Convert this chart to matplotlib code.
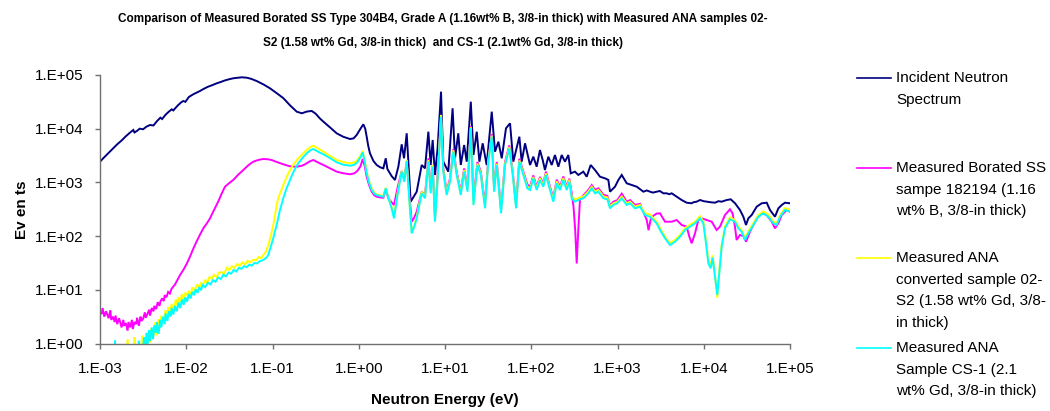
import matplotlib
matplotlib.use("Agg")
import matplotlib.pyplot as plt
from matplotlib.lines import Line2D
import numpy as np

plt.rcParams['font.family'] = ['Liberation Sans', 'DejaVu Sans']

# ---------------- data: (log10 energy [eV], log10 events) -------------
incident_spectrum = [
    (-3.00, 3.386), (-2.95, 3.47), (-2.90, 3.55), (-2.85, 3.63), (-2.80, 3.71), (-2.75, 3.78),
    (-2.70, 3.86), (-2.65, 3.93), (-2.614, 3.976), (-2.60, 3.93), (-2.57, 3.96), (-2.54, 4.00),
    (-2.50, 3.99), (-2.46, 4.04), (-2.42, 4.069), (-2.38, 4.06), (-2.34, 4.14), (-2.30, 4.205),
    (-2.28, 4.18), (-2.24, 4.26), (-2.20, 4.32), (-2.168, 4.361), (-2.15, 4.34), (-2.10, 4.43),
    (-2.06, 4.49), (-2.034, 4.516), (-2.01, 4.50), (-1.97, 4.59), (-1.92, 4.64), (-1.87, 4.68),
    (-1.841, 4.702), (-1.80, 4.74), (-1.75, 4.78), (-1.70, 4.81), (-1.647, 4.845), (-1.60, 4.87),
    (-1.55, 4.90), (-1.493, 4.925), (-1.45, 4.94), (-1.40, 4.95), (-1.357, 4.957), (-1.30, 4.95),
    (-1.25, 4.93), (-1.183, 4.888), (-1.10, 4.82), (-1.029, 4.752), (-0.95, 4.66), (-0.875, 4.57),
    (-0.80, 4.44), (-0.719, 4.317), (-0.66, 4.287), (-0.60, 4.32), (-0.545, 4.330), (-0.50, 4.28),
    (-0.45, 4.19), (-0.41, 4.131), (-0.33, 4.02), (-0.256, 3.914), (-0.18, 3.85), (-0.101, 3.808),
    (-0.06, 3.82), (-0.024, 3.883), (0.02, 4.00), (0.053, 4.082), (0.075, 4.00), (0.092, 3.851),
    (0.110, 3.68), (0.130, 3.542), (0.17, 3.40), (0.208, 3.324), (0.25, 3.28), (0.285, 3.262),
    (0.313, 3.449), (0.332, 3.25), (0.38, 3.12), (0.420, 3.045), (0.46, 3.30), (0.498, 3.709),
    (0.525, 3.449), (0.556, 3.914), (0.602, 2.641), (0.672, 2.827), (0.730, 3.324), (0.768, 3.262),
    (0.807, 3.944), (0.834, 3.324), (0.857, 3.790), (0.884, 3.138), (0.914, 3.635), (0.954, 4.689),
    (0.980, 3.386), (1.038, 3.20), (1.088, 4.380), (1.116, 3.449), (1.154, 3.914), (1.183, 3.324),
    (1.222, 3.696), (1.252, 3.386), (1.299, 4.503), (1.330, 3.510), (1.368, 3.944), (1.399, 3.386),
    (1.437, 3.728), (1.483, 3.324), (1.542, 4.317), (1.580, 3.572), (1.619, 3.758), (1.658, 3.449),
    (1.707, 4.007), (1.754, 4.100), (1.792, 3.386), (1.862, 3.851), (1.889, 3.386), (1.928, 3.728),
    (1.986, 3.324), (2.024, 3.479), (2.063, 3.292), (2.101, 3.603), (2.133, 3.417), (2.159, 3.231),
    (2.198, 3.479), (2.237, 3.324), (2.275, 3.510), (2.314, 3.292), (2.353, 3.510), (2.391, 3.386),
    (2.430, 3.510), (2.458, 3.169), (2.507, 3.20), (2.546, 3.138), (2.604, 3.20), (2.643, 3.106),
    (2.689, 3.324), (2.739, 3.231), (2.797, 3.106), (2.855, 3.076), (2.894, 3.045), (2.913, 2.827),
    (2.971, 2.920), (3.01, 3.045), (3.049, 3.138), (3.107, 2.983), (3.165, 2.952), (3.223, 2.920),
    (3.30, 2.827), (3.34, 2.85), (3.377, 2.827), (3.41, 2.81), (3.454, 2.827), (3.49, 2.84),
    (3.532, 2.797), (3.57, 2.797), (3.60, 2.78), (3.628, 2.797), (3.686, 2.734), (3.744, 2.672),
    (3.802, 2.622), (3.86, 2.611), (3.88, 2.63), (3.918, 2.641), (3.957, 2.672), (4.0, 2.65),
    (4.034, 2.641), (4.08, 2.63), (4.13, 2.622), (4.17, 2.65), (4.208, 2.641), (4.266, 2.672),
    (4.313, 2.685), (4.363, 2.611), (4.42, 2.486), (4.459, 2.361), (4.49, 2.207), (4.517, 2.331),
    (4.556, 2.393), (4.614, 2.548), (4.672, 2.611), (4.73, 2.622), (4.768, 2.486), (4.826, 2.361),
    (4.865, 2.517), (4.904, 2.579), (4.942, 2.622), (5.0, 2.611)]

borated_ss_182194 = [
    (-3.00, 0.58), (-2.98, 0.55), (-2.97, 0.66), (-2.95, 0.50), (-2.93, 0.60), (-2.92, 0.56),
    (-2.90, 0.47), (-2.88, 0.62), (-2.87, 0.44), (-2.85, 0.50), (-2.83, 0.40), (-2.82, 0.52),
    (-2.80, 0.36), (-2.78, 0.47), (-2.77, 0.42), (-2.75, 0.30), (-2.73, 0.44), (-2.72, 0.33),
    (-2.70, 0.38), (-2.68, 0.24), (-2.67, 0.40), (-2.65, 0.30), (-2.63, 0.44), (-2.62, 0.27),
    (-2.60, 0.40), (-2.58, 0.36), (-2.57, 0.48), (-2.55, 0.33), (-2.53, 0.50), (-2.52, 0.42),
    (-2.50, 0.46), (-2.48, 0.58), (-2.47, 0.48), (-2.45, 0.55), (-2.43, 0.63), (-2.42, 0.52),
    (-2.40, 0.66), (-2.38, 0.60), (-2.37, 0.70), (-2.35, 0.64), (-2.33, 0.77), (-2.31, 0.70),
    (-2.30, 0.78), (-2.28, 0.84), (-2.26, 0.79), (-2.25, 0.90), (-2.23, 0.86), (-2.21, 0.96),
    (-2.19, 0.93), (-2.17, 1.02), (-2.15, 1.06), (-2.13, 1.10), (-2.11, 1.16), (-2.09, 1.22),
    (-2.07, 1.28), (-2.03, 1.38), (-1.99, 1.50), (-1.957, 1.617), (-1.92, 1.76), (-1.88, 1.90),
    (-1.84, 2.03), (-1.80, 2.15), (-1.76, 2.24), (-1.725, 2.33), (-1.68, 2.48), (-1.63, 2.64),
    (-1.59, 2.79), (-1.551, 2.92), (-1.50, 2.99), (-1.455, 3.045), (-1.40, 3.14), (-1.339, 3.23),
    (-1.28, 3.32), (-1.223, 3.386), (-1.16, 3.42), (-1.107, 3.436), (-1.05, 3.43), (-1.01, 3.417),
    (-0.95, 3.38), (-0.875, 3.337), (-0.80, 3.30), (-0.719, 3.292), (-0.66, 3.31), (-0.623, 3.337),
    (-0.57, 3.39), (-0.527, 3.417), (-0.47, 3.37), (-0.41, 3.324), (-0.33, 3.26), (-0.256, 3.20),
    (-0.18, 3.17), (-0.101, 3.151), (-0.05, 3.17), (-0.017, 3.212), (0.02, 3.30), (0.046, 3.436),
    (0.07, 3.30), (0.092, 3.106), (0.12, 2.95), (0.15, 2.827), (0.18, 2.76), (0.208, 2.734),
    (0.25, 2.72), (0.285, 2.715), (0.313, 2.877), (0.343, 2.704), (0.38, 2.63), (0.409, 2.579),
    (0.45, 2.90), (0.498, 3.212), (0.528, 3.076), (0.556, 3.386), (0.585, 2.80), (0.614, 2.268),
    (0.645, 2.35), (0.672, 2.455), (0.730, 2.827), (0.768, 2.765), (0.807, 3.449), (0.834, 2.890),
    (0.857, 3.324), (0.884, 2.331), (0.914, 3.138), (0.954, 4.255),
    (0.98, 3.26), (1.019, 2.83), (1.058, 3.07), (1.097, 3.62), (1.135, 3.20), (1.183, 2.83),
    (1.222, 3.26), (1.261, 2.90), (1.299, 4.05), (1.33, 2.69), (1.376, 3.38), (1.415, 3.20),
    (1.464, 2.60), (1.502, 3.44), (1.542, 3.90), (1.569, 2.90), (1.60, 3.38), (1.65, 2.50),
    (1.696, 3.38), (1.746, 3.69), (1.785, 3.20), (1.824, 2.60), (1.862, 3.44), (1.909, 3.20),
    (1.955, 2.96),
    (1.986, 2.92), (2.024, 3.13), (2.063, 2.92), (2.101, 3.10), (2.14, 2.98), (2.17, 3.20),
    (2.217, 2.92), (2.256, 2.71), (2.295, 3.05), (2.333, 2.92), (2.372, 3.11), (2.411, 2.92),
    (2.442, 3.07), (2.469, 2.80), (2.49, 2.55), (2.51, 2.10), (2.527, 1.49), (2.545, 2.10),
    (2.565, 2.68), (2.604, 2.76), (2.662, 2.86), (2.701, 2.95), (2.739, 2.86), (2.778, 2.89),
    (2.836, 2.77), (2.882, 2.75), (2.913, 2.57), (2.952, 2.64), (2.998, 2.67), (3.049, 2.79),
    (3.107, 2.64), (3.146, 2.67), (3.203, 2.58), (3.261, 2.60), (3.30, 2.45), (3.339, 2.30),
    (3.36, 2.11), (3.39, 2.35), (3.454, 2.42), (3.493, 2.424), (3.551, 2.268), (3.628, 2.268),
    (3.686, 2.30), (3.744, 2.207), (3.802, 2.176), (3.833, 1.989), (3.86, 1.866), (3.899, 2.052),
    (3.937, 2.30), (3.976, 2.331), (4.034, 2.30), (4.092, 2.268), (4.15, 2.114), (4.188, 2.176),
    (4.246, 2.393), (4.304, 2.499), (4.334, 2.424), (4.362, 2.176), (4.381, 1.927), (4.42, 2.021),
    (4.459, 2.0), (4.49, 1.896), (4.536, 2.082), (4.614, 2.331), (4.672, 2.424), (4.73, 2.393),
    (4.788, 2.268), (4.826, 2.145), (4.865, 2.238), (4.904, 2.393), (4.962, 2.486), (5.0, 2.455)]

ana_02_s2 = [
    (-2.70, -0.30), (-2.68, 0.08), (-2.665, -0.30), (-2.61, -0.20), (-2.60, 0.12), (-2.59, -0.10),
    (-2.53, -0.20), (-2.51, 0.15), (-2.50, -0.15), (-2.47, 0.06), (-2.455, -0.20), (-2.44, 0.20),
    (-2.42, 0.02), (-2.41, 0.28), (-2.39, 0.10), (-2.37, 0.22), (-2.36, 0.40), (-2.34, 0.15),
    (-2.32, 0.45), (-2.31, 0.28), (-2.29, 0.52), (-2.27, 0.36), (-2.26, 0.44), (-2.24, 0.62),
    (-2.22, 0.46), (-2.21, 0.68), (-2.19, 0.55), (-2.17, 0.74), (-2.16, 0.62), (-2.14, 0.70),
    (-2.12, 0.82), (-2.10, 0.70), (-2.09, 0.86), (-2.07, 0.78), (-2.05, 0.92), (-2.03, 0.80),
    (-2.01, 0.95), (-1.99, 0.90), (-1.97, 0.98), (-1.95, 0.90), (-1.93, 1.05), (-1.91, 0.96),
    (-1.89, 1.04), (-1.87, 1.10), (-1.85, 1.02), (-1.83, 1.14), (-1.81, 1.08), (-1.78, 1.19),
    (-1.76, 1.12), (-1.73, 1.24), (-1.70, 1.20), (-1.68, 1.28), (-1.65, 1.24), (-1.62, 1.32),
    (-1.59, 1.33), (-1.56, 1.30), (-1.53, 1.41), (-1.50, 1.37), (-1.47, 1.44), (-1.44, 1.41),
    (-1.41, 1.48), (-1.38, 1.45), (-1.35, 1.51), (-1.32, 1.47), (-1.29, 1.54), (-1.26, 1.51),
    (-1.223, 1.56), (-1.19, 1.55), (-1.16, 1.61), (-1.13, 1.59), (-1.107, 1.65), (-1.08, 1.70),
    (-1.049, 1.834), (-1.02, 2.00), (-0.991, 2.207), (-0.970, 2.40), (-0.952, 2.579), (-0.93, 2.72),
    (-0.875, 2.952), (-0.837, 3.10), (-0.797, 3.231), (-0.75, 3.35), (-0.701, 3.449), (-0.65, 3.53),
    (-0.604, 3.603), (-0.56, 3.66), (-0.527, 3.684), (-0.47, 3.63), (-0.41, 3.572), (-0.33, 3.49),
    (-0.256, 3.417), (-0.18, 3.38), (-0.101, 3.356), (-0.05, 3.37), (-0.017, 3.417), (0.02, 3.50),
    (0.046, 3.585), (0.07, 3.40), (0.092, 3.20), (0.12, 3.02), (0.150, 2.890), (0.18, 2.81),
    (0.208, 2.778), (0.25, 2.76), (0.285, 2.752), (0.313, 2.901), (0.343, 2.734), (0.38, 2.55),
    (0.409, 2.361), (0.45, 2.80), (0.498, 3.212), (0.528, 3.045), (0.556, 3.417), (0.585, 2.70),
    (0.614, 2.082), (0.645, 2.20), (0.672, 2.361), (0.730, 2.827), (0.768, 2.734), (0.807, 3.417),
    (0.834, 2.827), (0.857, 3.324), (0.884, 2.300), (0.914, 3.076), (0.954, 4.255),
    (0.98, 3.23), (1.019, 2.80), (1.058, 3.04), (1.097, 3.60), (1.135, 3.17), (1.183, 2.80),
    (1.222, 3.23), (1.261, 2.86), (1.299, 4.03), (1.33, 2.61), (1.376, 3.35), (1.415, 3.17),
    (1.464, 2.55), (1.502, 3.41), (1.542, 3.87), (1.569, 2.86), (1.60, 3.35), (1.65, 2.46),
    (1.696, 3.35), (1.746, 3.66), (1.785, 3.17), (1.824, 2.55), (1.862, 3.41), (1.909, 3.17),
    (1.955, 2.92),
    (1.986, 2.89), (2.024, 3.10), (2.063, 2.89), (2.101, 3.08), (2.14, 2.95), (2.17, 3.17),
    (2.217, 2.89), (2.256, 2.68), (2.295, 3.02), (2.333, 2.89), (2.372, 3.08), (2.411, 2.89),
    (2.442, 3.05), (2.469, 2.74), (2.507, 2.68), (2.546, 2.71), (2.604, 2.74), (2.662, 2.83),
    (2.701, 2.92), (2.739, 2.83), (2.778, 2.86), (2.836, 2.74), (2.882, 2.72), (2.913, 2.55),
    (2.952, 2.61), (2.998, 2.64), (3.049, 2.74), (3.107, 2.61), (3.146, 2.64), (3.203, 2.55),
    (3.261, 2.58), (3.319, 2.43), (3.377, 2.40), (3.454, 2.27), (3.493, 2.15), (3.551, 1.99),
    (3.609, 1.87), (3.667, 1.93), (3.725, 2.02), (3.783, 2.15), (3.841, 2.21), (3.899, 2.27),
    (3.957, 2.37), (3.995, 2.28), (4.026, 1.92), (4.053, 1.56), (4.08, 1.46), (4.103, 1.64),
    (4.13, 1.28), (4.157, 0.85), (4.18, 1.36), (4.208, 1.85), (4.246, 2.18), (4.304, 2.35),
    (4.362, 2.30), (4.401, 2.18), (4.439, 2.11), (4.478, 1.96), (4.517, 2.09), (4.575, 2.24),
    (4.633, 2.39), (4.691, 2.46), (4.749, 2.40), (4.807, 2.27), (4.846, 2.24), (4.884, 2.39),
    (4.942, 2.52), (5.0, 2.49)]

ana_cs_1 = [
    (-2.84, -0.50), (-2.826, 0.06), (-2.81, -0.50), (-2.56, -0.30), (-2.55, 0.05), (-2.54, -0.30),
    (-2.50, -0.10), (-2.49, 0.12), (-2.48, -0.15), (-2.46, 0.20), (-2.45, -0.05), (-2.43, 0.25),
    (-2.42, 0.05), (-2.40, 0.30), (-2.385, 0.08), (-2.37, 0.34), (-2.35, 0.20), (-2.34, 0.40),
    (-2.32, 0.18), (-2.30, 0.44), (-2.29, 0.30), (-2.27, 0.50), (-2.25, 0.36), (-2.24, 0.56),
    (-2.22, 0.42), (-2.20, 0.60), (-2.18, 0.50), (-2.17, 0.66), (-2.15, 0.54), (-2.13, 0.70),
    (-2.11, 0.60), (-2.09, 0.76), (-2.07, 0.66), (-2.05, 0.82), (-2.03, 0.72), (-2.01, 0.86),
    (-1.99, 0.78), (-1.97, 0.92), (-1.95, 0.84), (-1.93, 0.96), (-1.91, 0.90), (-1.89, 1.01),
    (-1.87, 0.94), (-1.85, 1.05), (-1.83, 0.99), (-1.81, 1.09), (-1.78, 1.05), (-1.75, 1.13),
    (-1.72, 1.10), (-1.69, 1.18), (-1.66, 1.15), (-1.63, 1.23), (-1.60, 1.20), (-1.57, 1.28),
    (-1.54, 1.25), (-1.51, 1.32), (-1.48, 1.30), (-1.45, 1.37), (-1.42, 1.34), (-1.39, 1.41),
    (-1.36, 1.39), (-1.33, 1.44), (-1.30, 1.42), (-1.27, 1.47), (-1.24, 1.45), (-1.21, 1.50),
    (-1.18, 1.49), (-1.15, 1.53), (-1.107, 1.555), (-1.07, 1.60), (-1.049, 1.648), (-1.02, 1.80),
    (-0.991, 1.959), (-0.97, 2.10), (-0.952, 2.207), (-0.913, 2.486), (-0.875, 2.704), (-0.837, 2.89),
    (-0.797, 3.045), (-0.75, 3.22), (-0.701, 3.356), (-0.65, 3.46), (-0.604, 3.541), (-0.56, 3.60),
    (-0.527, 3.622), (-0.47, 3.57), (-0.41, 3.523), (-0.33, 3.45), (-0.256, 3.374), (-0.18, 3.33),
    (-0.101, 3.311), (-0.05, 3.33), (-0.017, 3.374), (0.02, 3.47), (0.046, 3.560), (0.07, 3.37),
    (0.092, 3.169), (0.12, 2.99), (0.150, 2.858), (0.18, 2.79), (0.208, 2.765), (0.25, 2.745),
    (0.285, 2.734), (0.313, 2.890), (0.343, 2.715), (0.38, 2.52), (0.409, 2.331), (0.45, 2.77),
    (0.498, 3.2), (0.528, 3.013), (0.556, 3.399), (0.585, 2.70), (0.614, 2.052), (0.645, 2.18),
    (0.672, 2.331), (0.730, 2.797), (0.768, 2.704), (0.807, 3.386), (0.834, 2.797), (0.857, 3.293),
    (0.884, 2.268), (0.914, 3.045), (0.954, 4.224),
    (0.98, 3.20), (1.019, 2.765), (1.058, 3.013), (1.097, 3.572), (1.135, 3.138), (1.183, 2.765),
    (1.222, 3.20), (1.261, 2.827), (1.299, 4.007), (1.33, 2.579), (1.376, 3.324), (1.415, 3.138),
    (1.464, 2.517), (1.502, 3.386), (1.542, 3.851), (1.569, 2.827), (1.60, 3.324), (1.65, 2.424),
    (1.696, 3.324), (1.746, 3.635), (1.785, 3.138), (1.824, 2.517), (1.862, 3.386), (1.909, 3.138),
    (1.955, 2.890),
    (1.986, 2.858), (2.024, 3.076), (2.063, 2.858), (2.101, 3.045), (2.14, 2.92), (2.17, 3.138),
    (2.217, 2.858), (2.256, 2.641), (2.295, 2.983), (2.333, 2.858), (2.372, 3.045), (2.411, 2.858),
    (2.442, 3.013), (2.469, 2.704), (2.507, 2.641), (2.546, 2.672), (2.604, 2.704), (2.662, 2.797),
    (2.701, 2.890), (2.739, 2.797), (2.778, 2.827), (2.836, 2.704), (2.882, 2.685), (2.913, 2.517),
    (2.952, 2.579), (2.998, 2.611), (3.049, 2.704), (3.107, 2.579), (3.146, 2.611), (3.203, 2.517),
    (3.261, 2.548), (3.319, 2.393), (3.377, 2.361), (3.454, 2.238), (3.493, 2.114), (3.551, 1.959),
    (3.609, 1.834), (3.667, 1.896), (3.725, 1.989), (3.783, 2.114), (3.841, 2.176), (3.899, 2.238),
    (3.957, 2.331), (3.995, 2.238), (4.026, 1.866), (4.053, 1.493), (4.08, 1.40), (4.103, 1.60),
    (4.13, 1.244), (4.157, 0.903), (4.18, 1.306), (4.208, 1.803), (4.246, 2.145), (4.304, 2.313),
    (4.362, 2.268), (4.401, 2.145), (4.439, 2.082), (4.478, 1.927), (4.517, 2.052), (4.575, 2.207),
    (4.633, 2.361), (4.691, 2.424), (4.749, 2.361), (4.807, 2.238), (4.846, 2.207), (4.884, 2.361),
    (4.942, 2.486), (5.0, 2.455)]

series_labels = [
    ["Incident Neutron", "Spectrum"],
    ["Measured Borated SS", "sampe 182194 (1.16", "wt% B, 3/8-in thick)"],
    ["Measured ANA", "converted sample 02-", "S2 (1.58 wt% Gd, 3/8-", "in thick)"],
    ["Measured ANA", "Sample CS-1 (2.1", "wt% Gd, 3/8-in thick)"],
]
series_colors = ["#000080", "#FF00FF", "#FFFF00", "#00FFFF"]
x_tick_labels = ["1.E-03", "1.E-02", "1.E-01", "1.E+00", "1.E+01", "1.E+02", "1.E+03", "1.E+04", "1.E+05"]
y_tick_labels = ["1.E+00", "1.E+01", "1.E+02", "1.E+03", "1.E+04", "1.E+05"]
title_lines = ["Comparison of Measured Borated SS Type 304B4, Grade A (1.16wt% B, 3/8-in thick) with Measured ANA samples 02-",
               "S2 (1.58 wt% Gd, 3/8-in thick)  and CS-1 (2.1wt% Gd, 3/8-in thick)"]

# ---------------- figure -------------
W, H = 1050, 411
fig = plt.figure(figsize=(W / 100, H / 100), dpi=100)
fig.patch.set_facecolor("white")
ax = fig.add_axes([100 / W, 1 - 343.5 / H, 690 / W, 268.5 / H])

for pts, c in zip([incident_spectrum, borated_ss_182194, ana_02_s2, ana_cs_1], series_colors):
    le, ln = np.array(pts).T
    ax.plot(np.power(10.0, le), np.power(10.0, ln), color=c, lw=1.4, solid_joinstyle="miter")

ax.set_xscale("log")
ax.set_yscale("log")
ax.set_xlim(1e-3, 1e5)
ax.set_ylim(1, 1e5)
ax.set_xticks([10.0 ** k for k in range(-3, 6)])
ax.set_xticklabels(x_tick_labels)
ax.set_yticks([10.0 ** k for k in range(0, 6)])
ax.set_yticklabels(y_tick_labels)
ax.minorticks_off()
for s in ("top", "right"):
    ax.spines[s].set_visible(False)
for s in ("left", "bottom"):
    ax.spines[s].set_color("#707070")
    ax.spines[s].set_linewidth(1.0)
ax.tick_params(axis="both", direction="out", length=3.6, width=1.0, color="#707070",
               labelsize=11)
ax.tick_params(axis="y", pad=8.5)
ax.tick_params(axis="x", pad=10)

ax.set_xlabel("Neutron Energy (eV)", fontsize=11, fontweight="bold", labelpad=12)
ax.set_ylabel("Ev en ts", fontsize=11, fontweight="bold", labelpad=4)

for i, line in enumerate(title_lines):
    fig.text(443 / W, 1 - (19 + 24 * i) / H, line, ha="center", va="center",
             fontsize=8.5, fontweight="bold")

legend_first_y = [78, 168, 258, 348]
step = 21.7
for lines, c, y0 in zip(series_labels, series_colors, legend_first_y):
    fig.add_artist(Line2D([857 / W, 891 / W], [1 - y0 / H, 1 - y0 / H], color=c, lw=1.2,
                          transform=fig.transFigure))
    for k, t in enumerate(lines):
        fig.text(896 / W, 1 - (y0 + k * step) / H, t, ha="left", va="center", fontsize=11)

fig.savefig("out.png", dpi=100, facecolor="white")
